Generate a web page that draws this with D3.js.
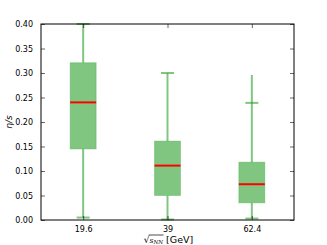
<!DOCTYPE html>
<html><head><meta charset="utf-8">
<script src="https://cdn.jsdelivr.net/npm/d3@7"></script>
<style>body{margin:0;background:#fff}svg{display:block}text{font-family:"DejaVu Sans",sans-serif}</style>
</head><body>
<script>
const categories = ["19.6", "39", "62.4"];
const q1 = [0.145, 0.050, 0.035];
const median = [0.240, 0.111, 0.073];
const q3 = [0.321, 0.161, 0.118];
const whiskerLow = [0.005, 0.001, 0.003];
const whiskerHigh = [0.400, 0.300, 0.296];
const capHigh = [0.400, 0.300, 0.239];
const yTicks = [0, 0.05, 0.10, 0.15, 0.20, 0.25, 0.30, 0.35, 0.40];

const W = 327, H = 245;
const m = {l: 41, r: 33, t: 24, b: 25};
const svg = d3.select("body").append("svg").attr("width", W).attr("height", H);
const x = d3.scalePoint().domain(categories).range([m.l, W - m.r]).padding(0.5);
const y = d3.scaleLinear().domain([0, 0.4]).range([H - m.b, m.t]);
const bw = 26, cw = 13;
const green = "rgb(44,160,44)";

const g = svg.append("g");
categories.forEach((c, i) => {
  const cx = x(c);
  g.append("line").attr("x1", cx).attr("x2", cx).attr("y1", y(q3[i])).attr("y2", y(whiskerHigh[i]))
    .attr("stroke", green).attr("stroke-opacity", 0.6).attr("stroke-width", 2);
  g.append("line").attr("x1", cx).attr("x2", cx).attr("y1", y(q1[i])).attr("y2", y(whiskerLow[i]))
    .attr("stroke", green).attr("stroke-opacity", 0.6).attr("stroke-width", 2);
  g.append("line").attr("x1", cx - cw/2).attr("x2", cx + cw/2).attr("y1", y(capHigh[i])).attr("y2", y(capHigh[i]))
    .attr("stroke", green).attr("stroke-opacity", 0.6).attr("stroke-width", 2);
  g.append("line").attr("x1", cx - cw/2).attr("x2", cx + cw/2).attr("y1", y(whiskerLow[i])).attr("y2", y(whiskerLow[i]))
    .attr("stroke", green).attr("stroke-opacity", 0.6).attr("stroke-width", 2);
  g.append("rect").attr("x", cx - bw/2).attr("width", bw).attr("y", y(q3[i])).attr("height", y(q1[i]) - y(q3[i]))
    .attr("fill", green).attr("fill-opacity", 0.6).attr("stroke", green).attr("stroke-opacity", 0.3).attr("stroke-width", 1);
  g.append("line").attr("x1", cx - bw/2).attr("x2", cx + bw/2).attr("y1", y(median[i])).attr("y2", y(median[i]))
    .attr("stroke", "#ff0000").attr("stroke-width", 2);
});

const fs = 8;
const yl = svg.append("g").attr("transform", `translate(${m.l},0)`)
  .call(d3.axisLeft(y).tickValues(yTicks).tickFormat(d3.format(".2f")).tickSizeInner(-4).tickSizeOuter(0).tickPadding(8));
const yr = svg.append("g").attr("transform", `translate(${W - m.r},0)`)
  .call(d3.axisRight(y).tickValues(yTicks).tickFormat("").tickSizeInner(-4).tickSizeOuter(0));
const xb = svg.append("g").attr("transform", `translate(0,${H - m.b})`)
  .call(d3.axisBottom(x).tickSizeInner(-4).tickSizeOuter(0).tickPadding(6));
const xt = svg.append("g").attr("transform", `translate(0,${m.t})`)
  .call(d3.axisTop(x).tickFormat("").tickSizeInner(-4).tickSizeOuter(0));
[yl, yr, xb, xt].forEach(a => {
  a.select(".domain").remove();
  a.selectAll("line").attr("stroke", "#000").attr("stroke-width", 0.6);
  a.selectAll("text").attr("font-size", fs).attr("fill", "#000").attr("font-family", "DejaVu Sans");
});
svg.append("rect").attr("x", m.l).attr("y", m.t).attr("width", W - m.r - m.l).attr("height", H - m.b - m.t)
  .attr("fill", "none").attr("stroke", "#000").attr("stroke-width", 1);

svg.append("text").attr("transform", `translate(12,${(m.t + H - m.b)/2}) rotate(-90)`)
  .attr("text-anchor", "middle").attr("font-size", 9).attr("font-style", "italic").attr("font-family", "DejaVu Serif")
  .text("η/s");
const cxl = (m.l + W - m.r)/2 + 1;
const xlab = svg.append("text").attr("x", cxl).attr("y", 243).attr("text-anchor", "middle").attr("font-size", 9.5);
xlab.append("tspan").attr("font-size", 9).text("√");
xlab.append("tspan").attr("font-style", "italic").attr("font-family", "DejaVu Serif").attr("font-size", 7.5).text("s");
xlab.append("tspan").attr("font-style", "italic").attr("font-family", "DejaVu Serif").attr("font-size", 5.5).attr("dy", 1).text("NN");
xlab.append("tspan").attr("dy", -1).text(" [GeV]");
const tl = xlab.node().getComputedTextLength();
const x0 = cxl - tl/2;
const sqW = xlab.node().getSubStringLength(0, 1);
const radW = xlab.node().getSubStringLength(0, 4);
svg.append("line").attr("x1", x0 + sqW - 0.8).attr("x2", x0 + radW + 0.5).attr("y1", 235).attr("y2", 235)
  .attr("stroke", "#000").attr("stroke-width", 0.7);
</script>
</body></html>
